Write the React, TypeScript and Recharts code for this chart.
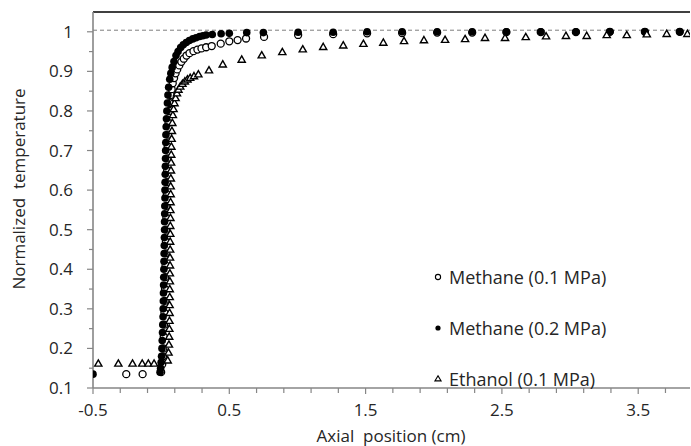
import React from 'react';
import {
  ScatterChart,
  Scatter,
  XAxis,
  YAxis,
  ReferenceLine,
  Legend,
} from 'recharts';

const FONT = '"Open Sans", sans-serif';
const TEXT = '#262626';
const AXIS = '#868686';

// [axial position (cm), normalized temperature]
const methane01: [number, number][] = [
  [-0.256, 0.135], [-0.136, 0.135],
  [0.0, 0.14], [0.008, 0.16], [0.013, 0.18], [0.016, 0.2], [0.019, 0.23], [0.022, 0.26],
  [0.024, 0.29], [0.026, 0.32], [0.028, 0.35], [0.03, 0.38], [0.032, 0.41], [0.033, 0.44],
  [0.035, 0.47], [0.036, 0.5], [0.038, 0.53], [0.039, 0.56], [0.041, 0.59], [0.042, 0.62],
  [0.044, 0.65], [0.046, 0.68], [0.048, 0.71], [0.051, 0.74], [0.054, 0.77], [0.059, 0.8],
  [0.064, 0.82], [0.07, 0.84], [0.077, 0.855], [0.085, 0.87], [0.095, 0.883], [0.106, 0.895],
  [0.118, 0.905], [0.133, 0.915], [0.148, 0.924], [0.166, 0.932], [0.186, 0.94], [0.208, 0.946],
  [0.237, 0.951], [0.266, 0.955], [0.296, 0.958], [0.33, 0.961],
  [0.371, 0.964], [0.437, 0.97], [0.5, 0.976], [0.561, 0.979], [0.623, 0.983], [0.755, 0.987],
  [1.005, 0.992], [1.262, 0.994], [1.511, 0.996], [1.768, 0.997], [2.025, 0.998], [2.282, 0.998],
  [2.533, 0.999], [2.785, 0.999], [3.043, 0.999], [3.292, 1.0], [3.549, 1.0], [3.805, 1.0],
];

const methane02: [number, number][] = [
  [-0.5, 0.135],
  [-0.008, 0.14], [-0.004, 0.15], [0.0, 0.165], [0.003, 0.18], [0.006, 0.2], [0.008, 0.22],
  [0.01, 0.24], [0.012, 0.26], [0.014, 0.28], [0.015, 0.3], [0.016, 0.32], [0.017, 0.34],
  [0.018, 0.36], [0.019, 0.38], [0.02, 0.4], [0.021, 0.42], [0.022, 0.44], [0.023, 0.46],
  [0.024, 0.48], [0.025, 0.5], [0.025, 0.52], [0.026, 0.54], [0.027, 0.56], [0.028, 0.58],
  [0.028, 0.6], [0.029, 0.62], [0.03, 0.64], [0.031, 0.66], [0.032, 0.68], [0.033, 0.7],
  [0.034, 0.72], [0.035, 0.74], [0.037, 0.76], [0.039, 0.78], [0.042, 0.8], [0.046, 0.82],
  [0.05, 0.84], [0.055, 0.86], [0.063, 0.88], [0.071, 0.895], [0.081, 0.91], [0.094, 0.925],
  [0.109, 0.94], [0.124, 0.95], [0.143, 0.96], [0.162, 0.967], [0.184, 0.973], [0.207, 0.978],
  [0.232, 0.982], [0.256, 0.985], [0.282, 0.988], [0.306, 0.99], [0.33, 0.992],
  [0.375, 0.993], [0.44, 0.995], [0.5, 0.996], [0.628, 0.998], [0.75, 0.998],
  [1.005, 0.999], [1.262, 0.999], [1.511, 1.0], [1.768, 1.0], [2.025, 1.0], [2.282, 1.0],
  [2.533, 1.0], [2.785, 1.0], [3.043, 1.0], [3.292, 1.0], [3.549, 1.0], [3.805, 1.0],
];

const ethanol01: [number, number][] = [
  [-0.461, 0.162], [-0.314, 0.162], [-0.21, 0.162], [-0.139, 0.162], [-0.094, 0.162], [-0.052, 0.162],
  [0.048, 0.17], [0.054, 0.19], [0.057, 0.21], [0.059, 0.23], [0.06, 0.25], [0.061, 0.27],
  [0.062, 0.29], [0.062, 0.31], [0.063, 0.33], [0.063, 0.35], [0.064, 0.37], [0.064, 0.39],
  [0.065, 0.41], [0.065, 0.43], [0.066, 0.45], [0.066, 0.47], [0.067, 0.49], [0.067, 0.51],
  [0.068, 0.53], [0.068, 0.55], [0.069, 0.57], [0.07, 0.59], [0.07, 0.61], [0.071, 0.63],
  [0.072, 0.65], [0.073, 0.67], [0.074, 0.69], [0.075, 0.71], [0.077, 0.73], [0.079, 0.75],
  [0.082, 0.77], [0.086, 0.79], [0.091, 0.805], [0.098, 0.82], [0.106, 0.833], [0.116, 0.845],
  [0.127, 0.854], [0.14, 0.862], [0.156, 0.869], [0.174, 0.875], [0.193, 0.88], [0.213, 0.884],
  [0.241, 0.888], [0.273, 0.893], [0.351, 0.903], [0.452, 0.918], [0.591, 0.93], [0.738, 0.941],
  [0.889, 0.949], [1.039, 0.956], [1.189, 0.962], [1.336, 0.966], [1.484, 0.97], [1.63, 0.973],
  [1.782, 0.977], [1.928, 0.979], [2.083, 0.98], [2.23, 0.982], [2.376, 0.985], [2.523, 0.985],
  [2.675, 0.987], [2.824, 0.989], [2.97, 0.99], [3.122, 0.99], [3.269, 0.992], [3.416, 0.992],
  [3.563, 0.994], [3.709, 0.995], [3.861, 0.995],
];

const xTicks = [-0.5, -0.3, -0.1, 0.1, 0.3, 0.5, 0.7, 0.9, 1.1, 1.3, 1.5, 1.7, 1.9, 2.1, 2.3, 2.5, 2.7, 2.9, 3.1, 3.3, 3.5, 3.7];
const xLabels = [-0.5, 0.5, 1.5, 2.5, 3.5];
const yTicks = [0.1, 0.15, 0.2, 0.25, 0.3, 0.35, 0.4, 0.45, 0.5, 0.55, 0.6, 0.65, 0.7, 0.75, 0.8, 0.85, 0.9, 0.95, 1.0];
const yLabels = [0.1, 0.2, 0.3, 0.4, 0.5, 0.6, 0.7, 0.8, 0.9, 1];

const seriesNames = ['Methane (0.1 MPa)', 'Methane (0.2 MPa)', 'Ethanol (0.1 MPa)'];

const toPoints = (arr: [number, number][]) => arr.map(([x, y]) => ({ x, y }));

const isMajor = (v: number, list: number[]) => list.some((l) => Math.abs(l - v) < 1e-6);

const OpenCircle = (props: any) => (
  <circle cx={props.cx} cy={props.cy} r={3.5} fill="#fff" stroke="#000" strokeWidth={1.3} />
);

const FilledCircle = (props: any) => (
  <circle cx={props.cx} cy={props.cy} r={3.8} fill="#000" />
);

const Triangle = (props: any) => {
  const { cx, cy } = props;
  const s = 3.6;
  return (
    <path
      d={`M${cx},${cy - s} L${cx + s},${cy + s * 0.75} L${cx - s},${cy + s * 0.75} Z`}
      fill="#fff"
      stroke="#000"
      strokeWidth={1.4}
    />
  );
};

const XTick = (props: any) => {
  const { x, y, payload } = props;
  const major = isMajor(payload.value, xLabels);
  return (
    <g>
      <line x1={x} x2={x} y1={y} y2={y + (major ? 6 : 5)} stroke={AXIS} strokeWidth={1.2} />
      {major && (
        <text x={x} y={y + 28} textAnchor="middle" fontSize={17} fontFamily={FONT} fill={TEXT}>
          {String(payload.value)}
        </text>
      )}
    </g>
  );
};

const YTick = (props: any) => {
  const { x, y, payload } = props;
  const major = isMajor(payload.value, yLabels);
  return (
    <g>
      <line x1={x - (major ? 6 : 4)} x2={x} y1={y} y2={y} stroke={AXIS} strokeWidth={1.2} />
      {major && (
        <text x={x - 20} y={y + 6} textAnchor="end" fontSize={17} fontFamily={FONT} fill={TEXT}>
          {String(payload.value)}
        </text>
      )}
    </g>
  );
};

const legendMarkers = [
  <circle cx={6} cy={8} r={2.6} fill="#fff" stroke="#000" strokeWidth={1.1} />,
  <circle cx={6} cy={8} r={2.6} fill="#000" />,
  <path d="M6,4.8 L9,9.8 L3,9.8 Z" fill="#fff" stroke="#000" strokeWidth={1.2} />,
];

const renderLegend = () => (
  <div style={{ fontFamily: FONT, fontSize: 18, color: TEXT }}>
    {seriesNames.map((name, i) => (
      <div key={name} style={{ display: 'flex', alignItems: 'center', height: 51 }}>
        <svg width={12} height={16} style={{ marginRight: 5 }}>
          {legendMarkers[i]}
        </svg>
        <span>{name}</span>
      </div>
    ))}
  </div>
);

export default function App() {
  return (
    <div style={{ position: 'absolute', left: 0, top: 0, width: 691, height: 446, background: '#fff' }}>
      <ScatterChart width={691} height={446} margin={{ top: 12, right: 1, bottom: 28, left: 0 }}>
        <XAxis
          type="number"
          dataKey="x"
          domain={[-0.5, 3.88]}
          ticks={xTicks}
          allowDataOverflow
          interval={0}
          height={30}
          tickSize={0}
          tickMargin={0}
          tickLine={false}
          axisLine={{ stroke: AXIS, strokeWidth: 1.6 }}
          tick={<XTick />}
          label={{
            content: () => (
              <text x={391} y={442} textAnchor="middle" fontSize={17} fontFamily={FONT} fill={TEXT} style={{ whiteSpace: 'pre' }}>
                {'Axial  position (cm)'}
              </text>
            ),
          }}
        />
        <YAxis
          type="number"
          dataKey="y"
          domain={[0.1, 1.05]}
          ticks={yTicks}
          allowDataOverflow
          interval={0}
          width={93}
          tickSize={0}
          tickMargin={0}
          tickLine={false}
          axisLine={{ stroke: AXIS, strokeWidth: 1.6 }}
          tick={<YTick />}
          label={{
            content: () => (
              <text
                x={0}
                y={0}
                transform="translate(25,189) rotate(-90)"
                textAnchor="middle"
                fontSize={17}
                fontFamily={FONT}
                fill={TEXT}
                style={{ whiteSpace: 'pre' }}
              >
                {'Normalized  temperature'}
              </text>
            ),
          }}
        />
        <ReferenceLine y={1.05} stroke="#000" strokeWidth={1.6} />
        <ReferenceLine y={1.004} stroke="#7f7f7f" strokeWidth={1} strokeDasharray="4 3" />
        <Scatter name={seriesNames[0]} data={toPoints(methane01)} shape={OpenCircle} isAnimationActive={false} />
        <Scatter name={seriesNames[1]} data={toPoints(methane02)} shape={FilledCircle} isAnimationActive={false} />
        <Scatter name={seriesNames[2]} data={toPoints(ethanol01)} shape={Triangle} isAnimationActive={false} />
        <Legend
          layout="vertical"
          align="center"
          verticalAlign="middle"
          content={renderLegend}
          wrapperStyle={{ left: 432, top: 251, width: 250 }}
        />
      </ScatterChart>
    </div>
  );
}
